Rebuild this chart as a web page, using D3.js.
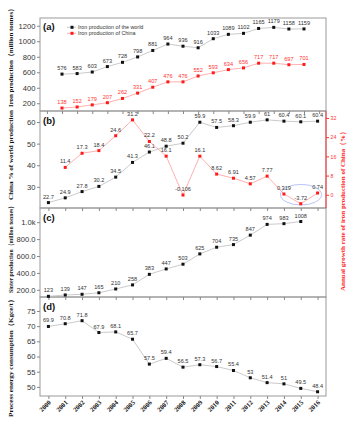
<!DOCTYPE html>
<html><head><meta charset="utf-8">
<script src="https://cdn.jsdelivr.net/npm/d3@7"></script>
<style>body{margin:0;background:#fff}svg{display:block}</style>
</head><body>
<script>
const years = d3.range(2000, 2017);
const worldIron = [576,583,603,673,728,798,881,964,936,916,1033,1089,1102,1165,1179,1158,1159];
const chinaIron = [138,152,179,207,262,331,407,476,476,552,593,634,656,717,717,697,701];
const chinaShare = [22.7,24.9,27.8,30.2,34.5,41.3,46.1,48.8,50.2,59.9,57.5,58.3,59.9,61,60.4,60.1,60.4];
const growthYears = d3.range(2001, 2017);
const chinaGrowth = [11.4,17.3,18.4,24.6,31.2,22.2,16.1,-0.106,16.1,8.62,6.91,4.57,7.77,0.319,-3.72,0.74];
const sinterYears = d3.range(2000, 2016);
const sinter = [123,139,147,165,210,258,383,447,503,625,704,735,847,974,983,1008];
const energy = [69.9,70.8,71.8,67.9,68.1,65.7,57.5,59.4,56.5,57.3,56.7,55.4,53,51.4,51,49.5,48.4];
const ticksA = [200,400,600,800,1000,1200];
const ticksB = [30,40,50,60];
const ticksBR = [0,8,16,24,32];
const ticksC = [200,400,600,800,1000];
const ticksD = [50,55,60,65,70,75];

const W = 355, H = 426, L = 40, R = 326;
const svg = d3.select("body").append("svg").attr("width", W).attr("height", H);
const sans = "Arial, 'Liberation Sans', sans-serif";
const serif = "'Liberation Serif', 'DejaVu Serif', serif";

const xA = d3.scaleLinear().domain([2000, 2016]).range([62, 304]);
const x = d3.scaleLinear().domain([1999.5, 2016.5]).range([L, R]);

const panels = {
  a: {top: 18, bottom: 111},
  b: {top: 111, bottom: 208},
  c: {top: 208, bottom: 297},
  d: {top: 297, bottom: 396}
};
const yA = d3.scaleLinear().domain([100, 1300]).range([111, 18]);
const yB = d3.scaleLinear().domain([20.2, 65.1]).range([208, 111]);
const yBR = d3.scaleLinear().domain([-5.5, 34.9]).range([208, 111]);
const yC = d3.scaleLinear().domain([115, 1168]).range([297, 208]);
const yD = d3.scaleLinear().domain([47, 79.6]).range([396, 297]);

function leftAxis(y, ticks, fmt) {
  const g = svg.append("g").attr("transform", `translate(${L},0)`)
    .call(d3.axisLeft(y).tickValues(ticks).tickSize(3).tickFormat(fmt || (d => d)));
  g.select(".domain").remove();
  g.selectAll("line").attr("stroke", "#888");
  g.selectAll("text").attr("font-family", sans).attr("font-size", 7.6).attr("fill", "#333").attr("x", -4.5);
}
function bottomTicks(xs, vals, yPos) {
  const g = svg.append("g").attr("transform", `translate(0,${yPos})`)
    .call(d3.axisBottom(xs).tickValues(vals).tickSize(3).tickFormat(""));
  g.select(".domain").remove();
  g.selectAll("line").attr("stroke", "#888");
  return g;
}
function series(xs, y, xv, vals, lineCol, ptCol, labCol, size) {
  const pts = xv.map((d, i) => [xs(d), y(vals[i])]);
  svg.append("path").attr("d", d3.line()(pts)).attr("fill", "none")
    .attr("stroke", lineCol).attr("stroke-width", 0.8);
  svg.append("g").selectAll("rect").data(pts).join("rect")
    .attr("x", d => d[0] - 1.5).attr("y", d => d[1] - 1.5)
    .attr("width", 3).attr("height", 3).attr("fill", ptCol);
  svg.append("g").selectAll("text").data(vals).join("text")
    .attr("x", (d, i) => pts[i][0]).attr("y", (d, i) => pts[i][1] - 4)
    .attr("text-anchor", "middle").attr("font-family", sans)
    .attr("font-size", size || 5.6).attr("fill", labCol).text(d => d);
}
function panelLabel(t, yPos) {
  svg.append("text").attr("x", 43).attr("y", yPos).attr("font-family", sans)
    .attr("font-weight", "bold").attr("font-size", 9.5).attr("fill", "#111").text(t);
}
function vTitle(t, cx, y0, y1, col) {
  svg.append("text").attr("transform", `translate(${cx},${(y0 + y1) / 2}) rotate(-90)`)
    .attr("text-anchor", "middle").attr("font-family", serif).attr("font-weight", "bold")
    .attr("font-size", 7).attr("fill", col || "#111")
    .attr("textLength", y1 - y0).attr("lengthAdjust", "spacingAndGlyphs").text(t);
}

// frames
Object.values(panels).forEach(p => {
  svg.append("rect").attr("x", L).attr("y", p.top).attr("width", R - L).attr("height", p.bottom - p.top)
    .attr("fill", "none").attr("stroke", "#999").attr("stroke-width", 1);
});

// axes
leftAxis(yA, ticksA);
leftAxis(yB, ticksB);
leftAxis(yC, ticksC, d => d >= 1000 ? (d / 1000).toFixed(1) + "k" : d.toFixed(1));
leftAxis(yD, ticksD);

bottomTicks(xA, d3.range(1999, 2018), 111);
bottomTicks(x, years, 208);
bottomTicks(x, years, 297);
bottomTicks(x, years, 396);
svg.append("g").selectAll("text").data(years).join("text")
  .attr("transform", d => `translate(${x(d) + 3},${403}) rotate(-45)`)
  .attr("text-anchor", "end").attr("font-family", serif).attr("font-weight", "bold")
  .attr("font-size", 6.6).attr("fill", "#111").text(d => d);

// right red axis in (b)
svg.append("line").attr("x1", R).attr("x2", R).attr("y1", 111).attr("y2", 208).attr("stroke", "#ff3333").attr("stroke-width", 1);
const gr = svg.append("g").attr("transform", `translate(${R},0)`)
  .call(d3.axisRight(yBR).tickValues(ticksBR).tickSize(3));
gr.select(".domain").remove();
gr.selectAll("line").attr("stroke", "#ff3333");
gr.selectAll("text").attr("font-family", sans).attr("font-size", 5.2).attr("fill", "#ff3333").attr("x", 4.5);

// panel (a)
series(xA, yA, years, worldIron, "#bdbdbd", "#111", "#333");
series(xA, yA, years, chinaIron, "#ff9c9c", "#ff1a1a", "#ff3333");
// legend
[["Iron production of the world", "#bdbdbd", "#111", 27.3], ["Iron production of China", "#ff9c9c", "#ff1a1a", 33.3]].forEach(l => {
  svg.append("line").attr("x1", 67).attr("x2", 76).attr("y1", l[3]).attr("y2", l[3]).attr("stroke", l[1]).attr("stroke-width", 0.8);
  svg.append("rect").attr("x", 70.5).attr("y", l[3] - 1.5).attr("width", 3).attr("height", 3).attr("fill", l[2]);
  svg.append("text").attr("x", 78).attr("y", l[3] + 1.8).attr("font-family", sans).attr("font-size", 5.4).attr("fill", "#333").text(l[0]);
});

// panel (b)
svg.append("ellipse").attr("cx", 301).attr("cy", 194.7).attr("rx", 20.5).attr("ry", 10.3)
  .attr("fill", "none").attr("stroke", "#a6b4f0").attr("stroke-width", 0.8);
series(x, yB, years, chinaShare, "#bdbdbd", "#111", "#333");
series(x, yBR, growthYears, chinaGrowth, "#ff9c9c", "#ff1a1a", "#333");

// panel (c)
series(x, yC, sinterYears, sinter, "#bdbdbd", "#111", "#333");
// panel (d)
series(x, yD, years, energy, "#bdbdbd", "#111", "#333");

panelLabel("(a)", 30);
panelLabel("(b)", 124);
panelLabel("(c)", 221);
panelLabel("(d)", 310);

vTitle("Iron production（million tonnes）", 13, 5, 107);
vTitle("China % of world production", 13, 110, 200);
vTitle("Sinter production（million tonnes）", 13, 203, 293);
vTitle("Process energy consumption（Kgce/t）", 13, 296, 417);
vTitle("Annual growth rate of iron production of China（%）", 345, 128, 291, "#ff2222");
</script>
</body></html>
